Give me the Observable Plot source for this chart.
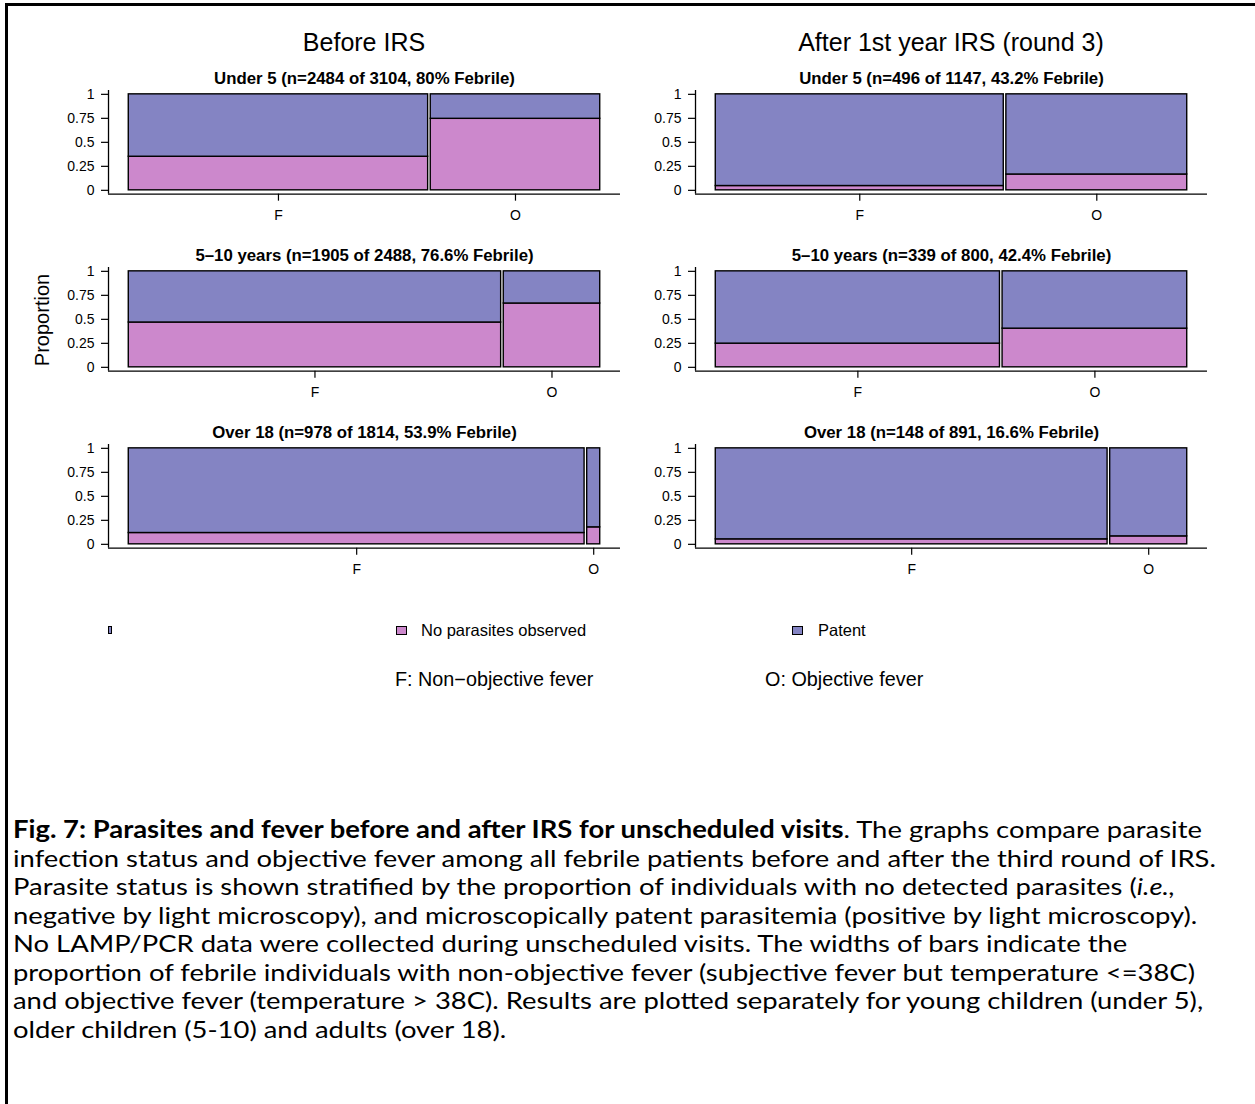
<!DOCTYPE html>
<html><head><meta charset="utf-8">
<script src="https://cdn.jsdelivr.net/npm/d3@7"></script>
<script src="https://cdn.jsdelivr.net/npm/@observablehq/plot@0.6"></script>
<style>
body{margin:0;background:#fff;}
#page{position:relative;width:1255px;height:1104px;overflow:hidden;font-family:"Liberation Sans",Arial,sans-serif;color:#000;}
.abs{position:absolute;white-space:nowrap;line-height:1;}
.cap{position:absolute;left:13px;white-space:nowrap;line-height:1;font-family:Lato,"Open Sans",sans-serif;transform-origin:0 50%;}
</style></head><body><div id="page"></div>
<script>
// ---- data ----
const periods = ["Before IRS", "After 1st year IRS (round 3)"];
const ageGroups = ["Under 5", "5\u201310 years", "Over 18"];
const febrileN = [[2484, 496], [1905, 339], [978, 148]];
const totalN = [[3104, 1147], [2488, 800], [1814, 891]];
const febrilePct = [["80%", "43.2%"], ["76.6%", "42.4%"], ["53.9%", "16.6%"]];
const feverCats = ["F", "O"];
// share of febrile patients with non-objective fever (width of the F bar)
const shareF = [[0.637, 0.613], [0.791, 0.605], [0.967, 0.832]];
// proportion with no parasites observed, for F and O
const noParasF = [[0.35, 0.045], [0.467, 0.247], [0.118, 0.052]];
const noParasO = [[0.745, 0.165], [0.665, 0.403], [0.177, 0.083]];
const statusLabels = ["No parasites observed", "Patent"];
const statusColors = ["#cc88cc", "#8484c3"];
const yTicks = [0, 0.25, 0.5, 0.75, 1];
const feverLegend = ["F: Non\u2212objective fever", "O: Objective fever"];
const captionLines = [
  ["<b>Fig. 7: Parasites and fever before and after IRS for unscheduled visits</b>. The graphs compare parasite"],
  ["infection status and objective fever among all febrile patients before and after the third round of IRS."],
  ["Parasite status is shown stratified by the proportion of individuals with no detected parasites (<i>i.e.,</i>"],
  ["negative by light microscopy), and microscopically patent parasitemia (positive by light microscopy)."],
  ["No LAMP/PCR data were collected during unscheduled visits. The widths of bars indicate the"],
  ["proportion of febrile individuals with non-objective fever (subjective fever but temperature &lt;=38C)"],
  ["and objective fever (temperature &gt; 38C). Results are plotted separately for young children (under 5),"],
  ["older children (5-10) and adults (over 18)."]
];

// ---- layout ----
const page = document.getElementById("page");
const colLeft = [0, 587];
const rowY1 = [94, 271, 448];
const unit = 96;
const pad = 0.04;
const mTop = 30, mBottom = 40, svgW = 620, mLeft = 108;
const plotH = unit * (1 + 2 * pad);

function div(html, style) {
  const d = document.createElement("div");
  d.className = "abs";
  d.innerHTML = html;
  Object.assign(d.style, style);
  page.appendChild(d);
  return d;
}

// frame lines of the figure
div("", {left: "5px", top: "3px", width: "1250px", height: "1101px", borderTop: "3px solid #000", borderLeft: "3px solid #000"});

// period titles
periods.forEach((p, c) => {
  div(p, {left: (colLeft[c] + (mLeft + svgW) / 2) + "px", top: "42px", transform: "translate(-50%,-50%)", fontSize: "25px"});
});

// panels
for (let r = 0; r < 3; r++) {
  for (let c = 0; c < 2; c++) {
    const sF = shareF[r][c];
    const rows = [
      {cat: "F", status: statusLabels[0], x1: 0, x2: sF, y1: 0, y2: noParasF[r][c]},
      {cat: "F", status: statusLabels[1], x1: 0, x2: sF, y1: noParasF[r][c], y2: 1},
      {cat: "O", status: statusLabels[0], x1: sF, x2: 1, y1: 0, y2: noParasO[r][c]},
      {cat: "O", status: statusLabels[1], x1: sF, x2: 1, y1: noParasO[r][c], y2: 1}
    ];
    const centers = [sF / 2, (1 + sF) / 2];
    const lab = new Map(centers.map((v, i) => [v, feverCats[i]]));
    const subtitle = `${ageGroups[r]} (n=${febrileN[r][c]} of ${totalN[r][c]}, ${febrilePct[r][c]} Febrile)`;
    const chart = Plot.plot({
      width: svgW,
      height: mTop + plotH + mBottom,
      marginLeft: mLeft, marginRight: 0, marginTop: mTop, marginBottom: mBottom,
      style: {fontFamily: "'Liberation Sans', Arial, sans-serif", fontSize: "14px", background: "transparent", overflow: "visible"},
      x: {domain: [-pad, 1 + pad]},
      y: {domain: [-pad, 1 + pad]},
      color: {domain: statusLabels, range: statusColors},
      marks: [
        Plot.rect(rows, {x1: "x1", x2: "x2", y1: "y1", y2: "y2", fill: "status", stroke: "#000", strokeWidth: 1.4, insetLeft: 1.3, insetRight: 1.3}),
        Plot.ruleX([-pad], {stroke: "#000", strokeWidth: 1.3}),
        Plot.ruleY([-pad], {stroke: "#000", strokeWidth: 1.3}),
        Plot.axisY({ticks: yTicks, tickFormat: d => String(d), tickSize: 7, tickPadding: 7, fontSize: 14, label: null, strokeWidth: 1.2}),
        Plot.axisX({ticks: centers, tickFormat: d => lab.get(d), tickSize: 7, tickPadding: 9, fontSize: 14, label: null, strokeWidth: 1.2}),
        Plot.text([subtitle], {frameAnchor: "top", dy: -18, fontWeight: "bold", fontSize: 16.8})
      ]
    });
    chart.style.position = "absolute";
    chart.style.left = colLeft[c] + "px";
    chart.style.top = (rowY1[r] - pad * unit - mTop) + "px";
    page.appendChild(chart);
  }
}

// y label
div("Proportion", {left: "42px", top: "320px", transform: "translate(-50%,-50%) rotate(-90deg)", fontSize: "20px"});

// legend
div("", {left: "108px", top: "626px", width: "2px", height: "6px", background: statusColors[1], border: "1px solid #000"});
[[396, 421], [792, 818]].forEach(([sx, tx], i) => {
  div("", {left: sx + "px", top: "626px", width: "9px", height: "7px", background: statusColors[i], border: "1px solid #000"});
  div(statusLabels[i], {left: tx + "px", top: "630px", transform: "translateY(-50%)", fontSize: "16.5px"});
});
div(feverLegend[0], {left: "395px", top: "680px", transform: "translateY(-50%)", fontSize: "19.8px"});
div(feverLegend[1], {left: "765px", top: "680px", transform: "translateY(-50%)", fontSize: "19.8px"});

// caption: size fitted so the lines span the reference width, slightly condensed vertically
const refLine = "infection status and objective fever among all febrile patients before and after the third round of IRS.";
const cv = document.createElement("canvas").getContext("2d");
cv.font = "100px Lato";
const capSize = 100 * 1205 / cv.measureText(refLine).width;
captionLines.forEach((ln, i) => {
  const d = document.createElement("div");
  d.className = "cap";
  d.innerHTML = ln[0];
  d.style.fontSize = capSize + "px";
  d.style.top = (829 + i * 28.5) + "px";
  d.style.transform = "translateY(-50%) scaleY(0.87)";
  page.appendChild(d);
});
</script></body></html>
